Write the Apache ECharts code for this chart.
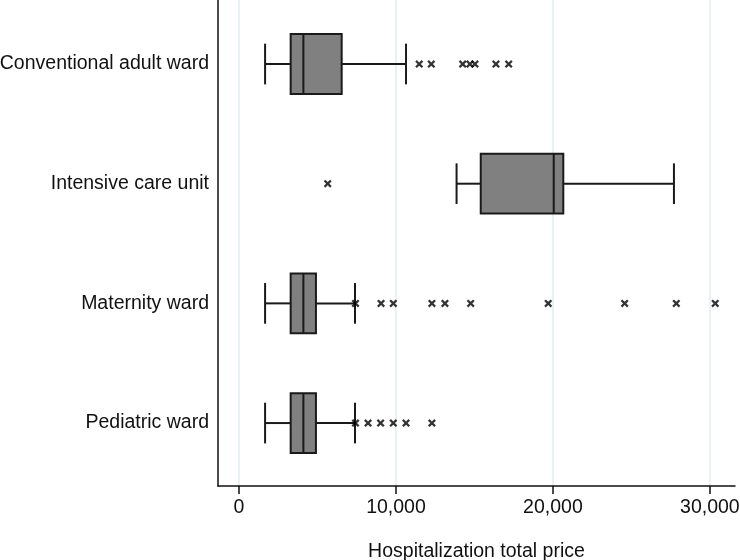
<!DOCTYPE html>
<html>
<head>
<meta charset="utf-8">
<script src="https://cdn.jsdelivr.net/npm/echarts@6/dist/echarts.min.js"></script>
<style>
  html, body { margin: 0; padding: 0; background: #fff; }
  #chart { width: 740px; height: 560px; }
</style>
</head>
<body>
<div id="chart"></div>
<script>
var wards = ['Conventional adult ward', 'Intensive care unit', 'Maternity ward', 'Pediatric ward'];

// [lower whisker, Q1, median, Q3, upper whisker]
var adultBox = [1660, 3290, 4100, 6540, 10640];
var icuBox = [13860, 15400, 20050, 20660, 27710];
var maternityBox = [1660, 3290, 4100, 4900, 7390];
var pediatricBox = [1660, 3290, 4100, 4900, 7390];

var adultOut = [11480, 12250, 14250, 14710, 15030, 16370, 17180];
var icuOut = [5650];
var maternityOut = [7420, 9050, 9830, 12290, 13120, 14760, 19700, 24570, 27860, 30340];
var pediatricOut = [7420, 8220, 9020, 9830, 10640, 12290];

var xTicks = [0, 10000, 20000, 30000];
var yTicks = [0, 1, 2, 3];

var boxes = [adultBox, icuBox, maternityBox, pediatricBox];
var outs = [adultOut, icuOut, maternityOut, pediatricOut];

var boxData = boxes.map(function (b, i) { return [i].concat(b); });
var outData = [];
outs.forEach(function (list, i) {
  list.forEach(function (v) { outData.push([v, i]); });
});

var crossPath = 'path://M0,2L2,0L5,3L8,0L10,2L7,5L10,8L8,10L5,7L2,10L0,8L3,5Z';

var myChart = echarts.init(document.getElementById('chart'));

myChart.setOption({
  animation: false,
  grid: { left: 218, right: 5, top: 0, bottom: 74, outerBoundsMode: 'none' },
  xAxis: {
    type: 'value',
    min: -1340,
    max: 31600,
    name: 'Hospitalization total price',
    nameLocation: 'middle',
    nameGap: 56,
    nameTextStyle: { fontFamily: 'Liberation Sans', fontSize: 19.5, color: '#111' },
    axisLine: { show: true, onZero: false, lineStyle: { color: '#111', width: 1.5 } },
    axisTick: { show: true, length: 8, customValues: xTicks, lineStyle: { color: '#111', width: 1.5 } },
    axisLabel: {
      customValues: xTicks,
      margin: 12,
      fontFamily: 'Liberation Sans',
      fontSize: 19.5,
      color: '#111',
      formatter: function (v) { return v.toLocaleString('en-US'); }
    },
    splitLine: { show: true, lineStyle: { color: '#e3ecf0', width: 1.5 } }
  },
  yAxis: {
    type: 'value',
    inverse: true,
    min: -0.535,
    max: 3.526,
    axisLine: { show: true, onZero: false, lineStyle: { color: '#111', width: 1.5 } },
    axisTick: { show: false },
    axisLabel: {
      customValues: yTicks,
      margin: 9,
      fontFamily: 'Liberation Sans',
      fontSize: 19.5,
      color: '#111',
      formatter: function (v) { return wards[Math.round(v)]; }
    },
    splitLine: { show: false }
  },
  series: [
    {
      type: 'custom',
      data: boxData,
      encode: { y: 0, x: [1, 2, 3, 4, 5] },
      renderItem: function (params, api) {
        var cat = api.value(0);
        var lo = api.coord([api.value(1), cat]);
        var q1 = api.coord([api.value(2), cat]);
        var md = api.coord([api.value(3), cat]);
        var q3 = api.coord([api.value(4), cat]);
        var hi = api.coord([api.value(5), cat]);
        var unit = api.size([0, 1])[1];
        var bh = unit * 0.5;
        var ch = unit * 0.34;
        var y = lo[1];
        var ls = { stroke: '#1a1a1a', lineWidth: 2 };
        return {
          type: 'group',
          children: [
            { type: 'line', shape: { x1: lo[0], y1: y, x2: q1[0], y2: y }, style: ls },
            { type: 'line', shape: { x1: q3[0], y1: y, x2: hi[0], y2: y }, style: ls },
            { type: 'line', shape: { x1: lo[0], y1: y - ch / 2, x2: lo[0], y2: y + ch / 2 }, style: ls },
            { type: 'line', shape: { x1: hi[0], y1: y - ch / 2, x2: hi[0], y2: y + ch / 2 }, style: ls },
            { type: 'rect', shape: { x: q1[0], y: y - bh / 2, width: q3[0] - q1[0], height: bh },
              style: { fill: '#808080', stroke: '#1a1a1a', lineWidth: 2 } },
            { type: 'line', shape: { x1: md[0], y1: y - bh / 2, x2: md[0], y2: y + bh / 2 }, style: ls }
          ]
        };
      }
    },
    {
      type: 'scatter',
      data: outData,
      symbol: crossPath,
      symbolSize: 8,
      itemStyle: { color: '#000' },
      z: 5
    }
  ]
});
</script>
</body>
</html>
